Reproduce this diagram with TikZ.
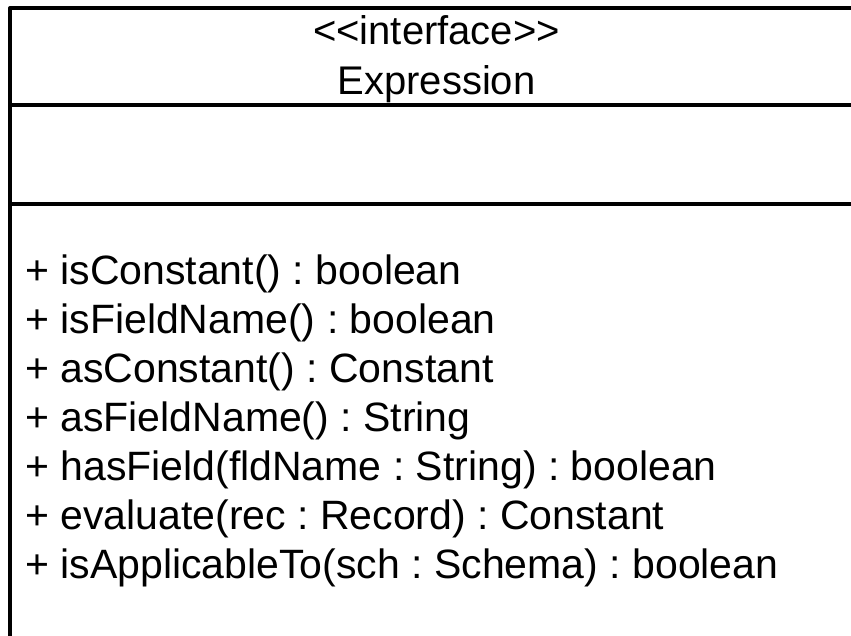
\documentclass[tikz,border=0pt]{standalone}
\usepackage{fontspec}
\setmainfont{Liberation Sans}
\frenchspacing
\begin{document}
\begin{tikzpicture}[x=1pt,y=-1pt,
  frame/.style={line width=4pt, line join=round, line cap=butt},
  title/.style={anchor=base, inner sep=0pt, font=\fontsize{40}{48}\selectfont},
  member/.style={anchor=base west, inner sep=0pt, font=\fontsize{41}{49}\selectfont}]
\useasboundingbox (0,0) rectangle (851,635);
% class box: outer frame and compartment separators
\draw[frame] (851,8) -- (10,8) -- (10,637);
\draw[frame] (10,105) -- (851,105);
\draw[frame] (10,204) -- (851,204);
% name compartment
\node[title] (stereo) at (436.5,44) {<{}<interface>{}>};
\node[title] (name) at (436.5,94) {Expression};
% operations
\node[member] (op1) at (25,284) {+ isConstant() : boolean};
\node[member] (op2) at (25,333) {+ isFieldName() : boolean};
\node[member] (op3) at (25,382) {+ asConstant() : Constant};
\node[member] (op4) at (25,431) {+ asFieldName() : String};
\node[member] (op5) at (25,480) {+ hasField(fldName : String) : boolean};
\node[member] (op6) at (25,529) {+ evaluate(rec : Record) : Constant};
\node[member] (op7) at (25,578) {+ isApplicableTo(sch : Schema) : boolean};
\end{tikzpicture}
\end{document}
